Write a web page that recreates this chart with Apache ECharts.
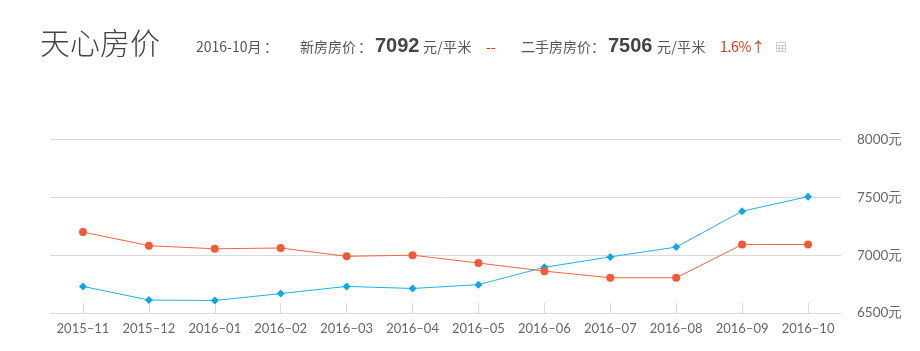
<!DOCTYPE html>
<html>
<head>
<meta charset="utf-8">
<title>天心房价</title>
<script src="https://cdn.jsdelivr.net/npm/echarts@6/dist/echarts.min.js"></script>
<style>
html, body { margin: 0; padding: 0; background: #fff; }
.wrap { position: relative; width: 920px; height: 351px; overflow: hidden; font-family: "Noto Sans CJK SC", sans-serif; color: #555; }
.wrap span { position: absolute; white-space: nowrap; line-height: 20px; font-size: 14px; top: 36px; }
.wrap .title { left: 40px; top: 21px; line-height: 40px; font-size: 30px; color: #444; font-weight: 300; }
.wrap .num { font-family: "Liberation Sans", sans-serif; font-size: 20px; font-weight: bold; color: #444; top: 35px; }
.wrap .red { color: #e0330f; }
.icon { position: absolute; left: 776px; top: 42px; width: 10px; height: 10px; }
#chart { position: absolute; left: 0; top: 0; width: 920px; height: 351px; }
</style>
</head>
<body>
<div class="wrap">
  <div id="chart"></div>
  <span class="title">天心房价</span>
  <span style="left:196px">2016-10月</span>
  <span style="left:264px">：</span>
  <span style="left:300px">新房房价</span>
  <span style="left:358px">：</span>
  <span class="num" style="left:375px">7092</span>
  <span style="left:423px;letter-spacing:.3px">元/平米</span>
  <span class="red" style="left:486px">--</span>
  <span style="left:521px">二手房房价</span>
  <span style="left:591px">：</span>
  <span class="num" style="left:608px">7506</span>
  <span style="left:657px;letter-spacing:.3px">元/平米</span>
  <span class="red" style="left:720px;letter-spacing:-.3px">1.6%↑</span>
  <svg class="icon" viewBox="0 0 10 10"><path d="M.5.5h9v9h-9zM.5 3.5h9M.5 6.5h9M3.5 3.5v6M6.5 3.5v6" fill="none" stroke="#ccc"/></svg>
</div>
<script>
const months = ['2015-11', '2015-12', '2016-01', '2016-02', '2016-03', '2016-04', '2016-05', '2016-06', '2016-07', '2016-08', '2016-09', '2016-10'];
const secondHand = [6730, 6612, 6608, 6668, 6730, 6712, 6745, 6895, 6985, 7070, 7380, 7506];
const newHouse = [7200, 7082, 7055, 7062, 6990, 7000, 6932, 6862, 6805, 6805, 7092, 7092];

let chart = echarts.init(document.getElementById('chart'));
let option = {
  animation: false,
  textStyle: { fontFamily: 'Lato, sans-serif' },
  grid: { left: 50, right: 79, top: 139.5, bottom: 38 },
  xAxis: {
    type: 'category',
    boundaryGap: true,
    data: months,
    axisLine: { lineStyle: { color: '#d9d9d9', width: 1 } },
    axisTick: { show: true, inside: true, alignWithLabel: true, length: 10, lineStyle: { color: '#d9d9d9' } },
    axisLabel: { color: '#666', fontSize: 13, margin: 9, interval: 0, formatter: v => v.replace('-', '–') }
  },
  yAxis: {
    type: 'value',
    position: 'right',
    min: 6500,
    max: 8000,
    interval: 500,
    axisLine: { show: false },
    axisTick: { show: false },
    splitLine: { lineStyle: { color: '#d9d9d9', width: 1 } },
    axisLabel: { color: '#666', fontSize: 13.5, margin: 16, formatter: v => v + '元' }
  },
  series: [
    {
      name: '二手房房价',
      type: 'line',
      data: secondHand,
      symbol: 'diamond',
      symbolSize: 8,
      itemStyle: { color: '#0ea5e9' },
      lineStyle: { color: '#1ab0ee', width: 1 }
    },
    {
      name: '新房房价',
      type: 'line',
      data: newHouse,
      symbol: 'circle',
      symbolSize: 8,
      itemStyle: { color: '#f05a35' },
      lineStyle: { color: '#f2643f', width: 1 }
    }
  ]
};
chart.setOption(option);
</script>
</body>
</html>
